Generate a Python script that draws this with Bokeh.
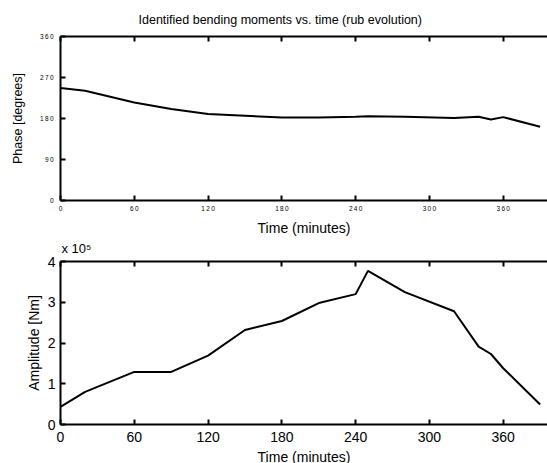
from bokeh.plotting import figure
from bokeh.models import LinearAxis, FixedTicker, Range1d, Title, CustomLabelingPolicy
from bokeh.layouts import column
from bokeh.embed import file_html
from bokeh.resources import INLINE

# ---- data ----
time_min = [0, 20, 60, 90, 120, 150, 180, 210, 240, 250, 280, 320, 340, 350, 360, 390]
phase_deg = [247, 241, 215, 201, 190, 186, 182, 182, 184, 185, 184, 181, 184, 178, 183, 162]
amplitude_e5 = [0.43, 0.80, 1.29, 1.29, 1.69, 2.32, 2.54, 2.98, 3.20, 3.77, 3.25, 2.78, 1.91, 1.73, 1.38, 0.49]

x_ticks = [0, 60, 120, 180, 240, 300, 360]
phase_ticks = [0, 90, 180, 270, 360]
amp_ticks = [0, 1, 2, 3, 4]

FONT = "Liberation Sans"
TS = "\u2009"  # thin space between digits of the small tick labels


def spaced(v):
    return TS.join(str(v))


def style_axis(ax, ticks, label_size, axis_label_size="14px", tick_labels=None):
    ax.ticker = FixedTicker(ticks=ticks)
    ax.axis_line_width = 2
    ax.axis_line_color = "black"
    ax.major_tick_line_width = 2
    ax.major_tick_line_color = "black"
    ax.major_tick_in = 5
    ax.major_tick_out = 0
    ax.minor_tick_line_color = None
    ax.major_label_text_font = FONT
    ax.major_label_text_font_size = label_size
    ax.major_label_text_color = "black"
    ax.axis_label_text_font = FONT
    ax.axis_label_text_font_size = axis_label_size
    ax.axis_label_text_font_style = "normal"
    ax.axis_label_text_color = "black"
    if tick_labels is not None:
        ax.major_label_overrides = tick_labels


def top_border(p):
    # top edge of the box with inward ticks, no labels
    ta = LinearAxis()
    style_axis(ta, x_ticks, "1px")
    ta.major_label_standoff = 0
    ta.major_label_policy = CustomLabelingPolicy(code="return []")
    p.add_layout(ta, "above")


def make_fig(height, top, bottom, yr):
    p = figure(width=547, height=height, output_backend="svg", toolbar_location=None,
               x_range=Range1d(0, 396), y_range=Range1d(*yr),
               min_border_left=60, min_border_right=0, min_border_top=top,
               min_border_bottom=bottom, x_axis_location=None, y_axis_location=None)
    p.outline_line_color = None
    p.grid.visible = False
    p.background_fill_color = "white"
    p.border_fill_color = "white"
    return p


# ---- top: phase ----
p1 = make_fig(255, 36, 55, (0, 360))
p1.title.text = "Identified bending moments vs. time (rub evolution)"
p1.title.text_font = FONT
p1.title.text_font_style = "normal"
p1.title.text_color = "black"
p1.title.align = "left"
p1.title.text_font_size = "12.5px"
p1.title.offset = 78
p1.title.standoff = 12

bx = LinearAxis(axis_label="Time (minutes)")
style_axis(bx, x_ticks, "6.5px", "14px", {t: spaced(t) for t in x_ticks})
bx.major_label_standoff = 4
bx.axis_label_standoff = 5
p1.add_layout(bx, "below")

# exponent note of the lower plot, sits just above the lower box
p1.add_layout(Title(text="x 10\u2075", text_font=FONT, text_font_size="13px",
                    text_font_style="normal", text_color="black", align="left",
                    offset=1, standoff=0), "below")

ly = LinearAxis(axis_label="Phase [degrees]")
style_axis(ly, phase_ticks, "6.5px", "12.5px", {t: spaced(t) for t in phase_ticks})
ly.major_label_standoff = 7
ly.axis_label_standoff = 12
p1.add_layout(ly, "left")

top_border(p1)
p1.line(time_min, phase_deg, line_color="black", line_width=2)

# ---- bottom: amplitude ----
p2 = make_fig(213, 6, 44, (0, 4))

bx2 = LinearAxis(axis_label="Time (minutes)")
style_axis(bx2, x_ticks, "14px", "14px")
bx2.major_label_standoff = 7
bx2.axis_label_standoff = 4
p2.add_layout(bx2, "below")

ly2 = LinearAxis(axis_label="Amplitude [Nm]")
style_axis(ly2, amp_ticks, "14px", "14px")
ly2.major_label_standoff = 5
ly2.axis_label_standoff = 3
p2.add_layout(ly2, "left")

top_border(p2)
p2.line(time_min, amplitude_e5, line_color="black", line_width=2)

layout = column(p1, p2, spacing=0)
open("out.html", "w").write(file_html(layout, INLINE))
